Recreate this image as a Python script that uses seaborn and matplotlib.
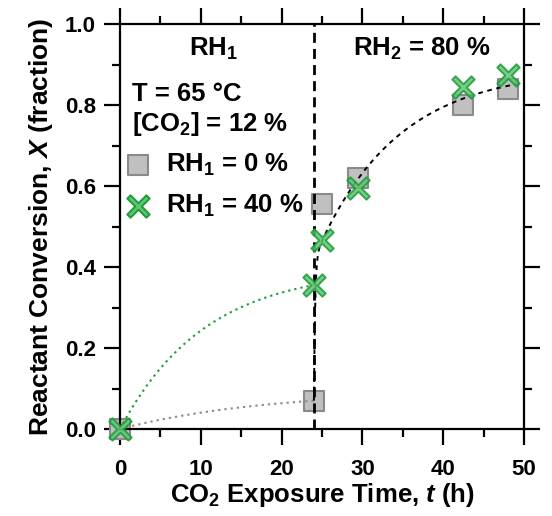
import numpy as np
import pandas as pd
import matplotlib
matplotlib.use("Agg")
import matplotlib.pyplot as plt
from matplotlib.path import Path
import seaborn as sns

# Measured conversion at each CO2 exposure time
time_h = [0, 24, 25, 29.5, 42.5, 48]
conv_rh0 = [0.0, 0.07, 0.555, 0.62, 0.80, 0.84]
conv_rh40 = [0.0, 0.356, 0.467, 0.595, 0.845, 0.875]
series_labels = ["RH$_1$ = 0 %", "RH$_1$ = 40 %"]

# Humidity switch time and kinetic fit parameters (X = A(1 - exp(-k t)))
t_switch = 24
fit_rh0 = (0.0955, 0.055)
fit_rh40 = (0.396, 0.095)
# second stage: X0 + A1(1-exp(-tau/tau1)) + A2(1-exp(-tau/tau2))
fit_stage2 = (0.07, 0.35, 0.15, 0.47, 10.0)

sns.set_style("ticks")
plt.rcParams["font.family"] = ["Liberation Sans", "DejaVu Sans"]
plt.rcParams["font.weight"] = "bold"
plt.rcParams["mathtext.fontset"] = "custom"
plt.rcParams["mathtext.rm"] = "Liberation Sans:bold"
plt.rcParams["mathtext.bf"] = "Liberation Sans:bold"
plt.rcParams["mathtext.it"] = "Liberation Sans:bold:italic"
plt.rcParams["mathtext.default"] = "rm"
for key in ["text.color", "axes.labelcolor", "xtick.color", "ytick.color", "axes.edgecolor"]:
    plt.rcParams[key] = "black"


def cross_marker(w=0.17):
    """Slim filled 'x' marker: a plus sign rotated by 45 degrees."""
    pts = [(-w, 1), (w, 1), (w, w), (1, w), (1, -w), (w, -w), (w, -1),
           (-w, -1), (-w, -w), (-1, -w), (-1, w), (-w, w), (-w, 1)]
    c = s = np.sqrt(0.5)
    rot = [(x * c - y * s, x * s + y * c) for x, y in pts]
    codes = [Path.MOVETO] + [Path.LINETO] * (len(rot) - 2) + [Path.CLOSEPOLY]
    return Path(rot, codes)


xmark = cross_marker()

fig = plt.figure(figsize=(5.52, 5.16), dpi=100)
ax = fig.add_axes([120 / 552, 1 - 429 / 516, 404 / 552, 405 / 516])

# fitted curves
t1 = np.linspace(0, t_switch, 200)
a, k = fit_rh0
sns.lineplot(x=t1, y=a * (1 - np.exp(-k * t1)), ax=ax, color="#8c8c8c",
             lw=1.5, linestyle=(0, (1.1, 1.9)), zorder=4)
a, k = fit_rh40
sns.lineplot(x=t1, y=a * (1 - np.exp(-k * t1)), ax=ax, color="#1fa040",
             lw=1.5, linestyle=(0, (1.1, 1.9)), zorder=4)

tau = np.concatenate([np.linspace(0, 2, 200), np.linspace(2, 26, 200)])
x0, a1, tau1, a2, tau2 = fit_stage2
y2 = x0 + a1 * (1 - np.exp(-tau / tau1)) + a2 * (1 - np.exp(-tau / tau2))
sns.lineplot(x=tau + t_switch, y=y2, ax=ax, color="black", lw=1.4,
             linestyle=(0, (2.4, 2.4)), sort=False, zorder=4)

# humidity switch marker
ax.axvline(t_switch, color="black", lw=2.0, linestyle=(0, (3.6, 2.2)), zorder=3)

# measured points
df = pd.DataFrame({"t": time_h * 2, "X": conv_rh0 + conv_rh40,
                   "s": [series_labels[0]] * len(time_h) + [series_labels[1]] * len(time_h)})
sns.scatterplot(data=df[df.s == series_labels[0]], x="t", y="X", ax=ax,
                marker="s", s=205, color="#c0c0c0", edgecolor="#8a8a8a",
                linewidth=1.5, zorder=2, clip_on=False, label=series_labels[0])
sns.scatterplot(data=df[df.s == series_labels[1]], x="t", y="X", ax=ax,
                marker=xmark, s=260, color="#5ec66c", edgecolor="#1d9a3c",
                linewidth=1.4, alpha=0.85, zorder=5, clip_on=False, label=series_labels[1])

ax.set_xlim(0, 50)
ax.set_ylim(0, 1.0)
ax.set_xticks(np.arange(0, 51, 10))
ax.set_xticks(np.arange(0, 51, 5), minor=True)
ax.set_yticks(np.arange(0, 1.01, 0.2))
ax.set_yticks(np.arange(0, 1.01, 0.1), minor=True)
ax.set_yticklabels([f"{v:.1f}" for v in np.arange(0, 1.01, 0.2)])
ax.tick_params(which="both", direction="out", top=True, right=True,
               width=1.6, colors="black", labelsize=16)
ax.tick_params(axis="x", which="major", pad=10)
ax.tick_params(axis="y", which="major", pad=6)
ax.tick_params(which="major", length=11.5)
ax.tick_params(which="minor", length=6)
for sp in ax.spines.values():
    sp.set_linewidth(1.6)
    sp.set_color("black")
    sp.set_visible(True)

ax.set_xlabel("CO$_2$ Exposure Time, $\\mathit{t}$ (h)", fontsize=18.5, fontweight="bold", labelpad=1)
ax.set_ylabel("Reactant Conversion, $\\mathit{X}$ (fraction)", fontsize=19, fontweight="bold", labelpad=7)

ax.text(11.6, 0.938, "RH$_1$", fontsize=18.5, fontweight="bold", ha="center", va="center")
ax.text(37.3, 0.938, "RH$_2$ = 80 %", fontsize=18.5, fontweight="bold", ha="center", va="center")
ax.text(1.5, 0.828, "T = 65 °C", fontsize=18.5, fontweight="bold", ha="left", va="center")
ax.text(1.5, 0.752, "[CO$_2$] = 12 %", fontsize=18.5, fontweight="bold", ha="left", va="center")

leg = ax.legend(loc="upper left", bbox_to_anchor=(-0.033, 0.73), frameon=False,
                prop={"size": 18.5, "weight": "bold"}, handletextpad=0.62,
                labelspacing=0.6, borderpad=0.2, handlelength=1.0)
for h in leg.legend_handles:
    h.set_alpha(1)

fig.savefig("out.png", dpi=100)
